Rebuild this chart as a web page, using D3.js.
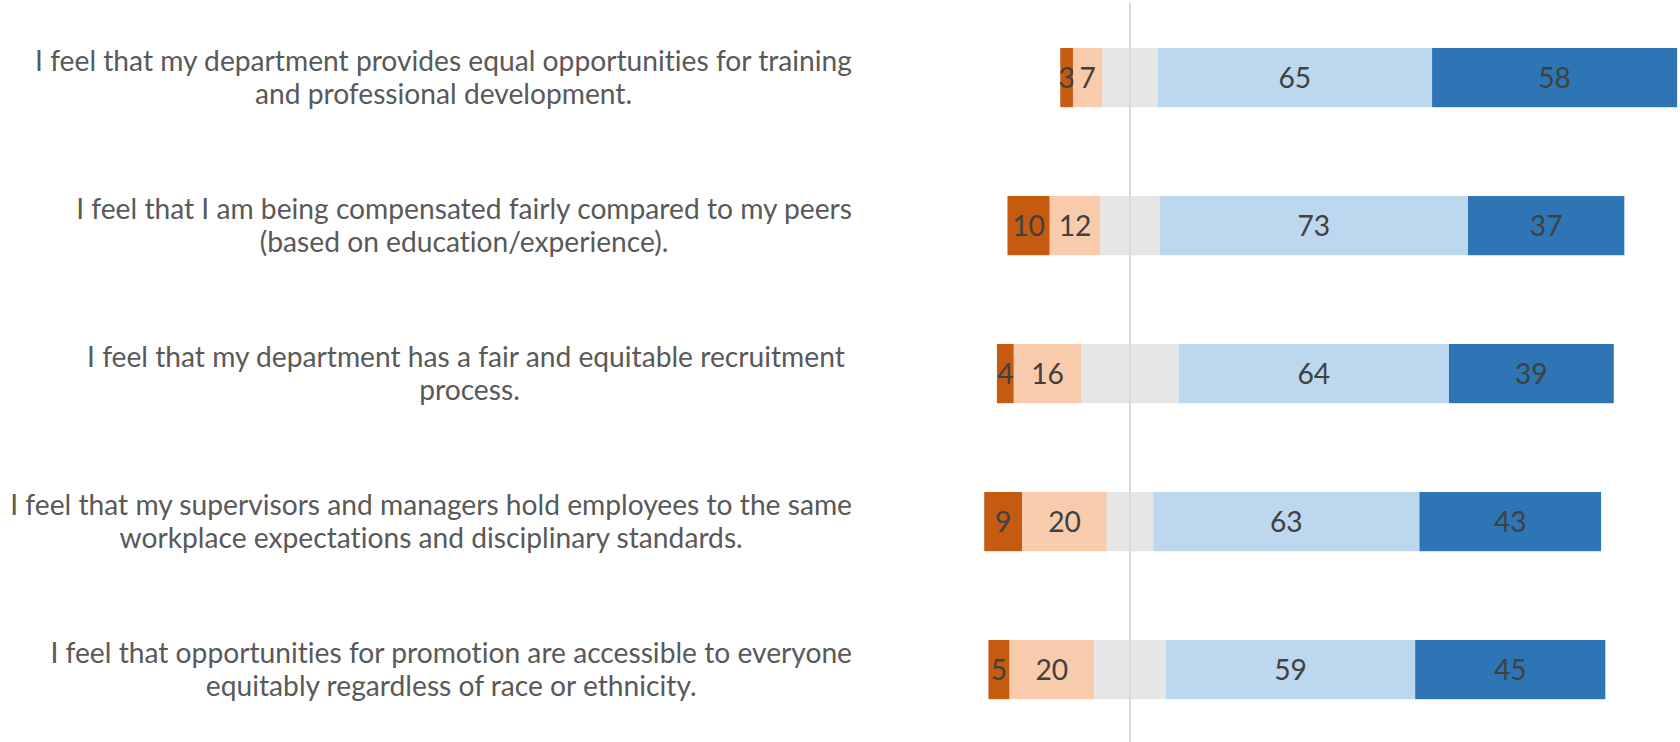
<!DOCTYPE html>
<html>
<head>
<meta charset="utf-8">
<script src="https://cdn.jsdelivr.net/npm/d3@7"></script>
<style>
  html, body { margin: 0; padding: 0; background: #ffffff; }
  svg { display: block; }
  text { font-family: Lato, "Open Sans", sans-serif; font-variant-ligatures: none; }
</style>
</head>
<body>
<svg id="chart" width="1680" height="742"></svg>
<script>
// ---- data ----
const categories = [
  ["I feel that my department provides equal opportunities for training", "and professional development."],
  ["I feel that I am being compensated fairly compared to my peers", "(based on education/experience)."],
  ["I feel that my department has a fair and equitable recruitment ", "process."],
  ["I feel that my supervisors and managers hold employees to the same", "workplace expectations and disciplinary standards."],
  ["I feel that opportunities for promotion are accessible to everyone", "equitably regardless of race or ethnicity."]
];
const seriesNames = ["Strongly disagree", "Somewhat disagree", "Neutral", "Somewhat agree", "Strongly agree"];
const stronglyDisagree = [3, 10, 4, 9, 5];
const somewhatDisagree = [7, 12, 16, 20, 20];
const neutral = [13, 14, 23, 11, 17];
const somewhatAgree = [65, 73, 64, 63, 59];
const stronglyAgree = [58, 37, 39, 43, 45];
const seriesColors = ["#C55A11", "#F8CBAD", "#E7E6E6", "#BDD7EE", "#2E75B6"];
const showLabel = [true, true, false, true, true];

const series = [stronglyDisagree, somewhatDisagree, neutral, somewhatAgree, stronglyAgree];

const svg = d3.select("#chart");

const x = d3.scaleLinear().domain([-60, 130]).range([876.5, 1679.25]);
const y = d3.scaleBand().domain(d3.range(categories.length))
  .range([3.6, 743.6]).paddingInner(0.6).paddingOuter(0.3);

// build segments
const segs = [];
categories.forEach((c, i) => {
  let start = -(stronglyDisagree[i] + somewhatDisagree[i] + neutral[i] / 2);
  series.forEach((s, k) => {
    segs.push({ row: i, k, x0: start, x1: start + s[i], v: s[i] });
    start += s[i];
  });
});

// bars
svg.append("g").selectAll("rect").data(segs).join("rect")
  .attr("x", d => x(d.x0))
  .attr("width", d => x(d.x1) - x(d.x0))
  .attr("y", d => y(d.row))
  .attr("height", y.bandwidth())
  .attr("fill", d => seriesColors[d.k]);

// zero line
svg.append("line")
  .attr("x1", x(0)).attr("x2", x(0))
  .attr("y1", 3).attr("y2", 742)
  .attr("stroke", "#d9d9d9").attr("stroke-width", 2);

// data labels
svg.append("g").selectAll("text").data(segs.filter(d => showLabel[d.k])).join("text")
  .attr("x", d => (x(d.x0) + x(d.x1)) / 2)
  .attr("y", d => y(d.row) + y.bandwidth() / 2 + 10.2)
  .attr("text-anchor", "middle")
  .attr("font-size", 28.2)
  .attr("fill", "#404040")
  .text(d => d.v);

// category labels
const labelRight = 852;
const lg = svg.append("g");
categories.forEach((lines, i) => {
  const cy = y(i) + y.bandwidth() / 2;
  const texts = lines.map((ln, j) => lg.append("text")
    .attr("y", cy - 6.5 + j * 33)
    .attr("font-size", 28.2)
    .attr("fill", "#595959")
    .attr("text-anchor", "middle")
    .style("white-space", "pre")
    .text(ln));
  const maxW = d3.max(texts, t => t.node().getComputedTextLength());
  texts.forEach(t => t.attr("x", labelRight - maxW / 2));
});
</script>
</body>
</html>
